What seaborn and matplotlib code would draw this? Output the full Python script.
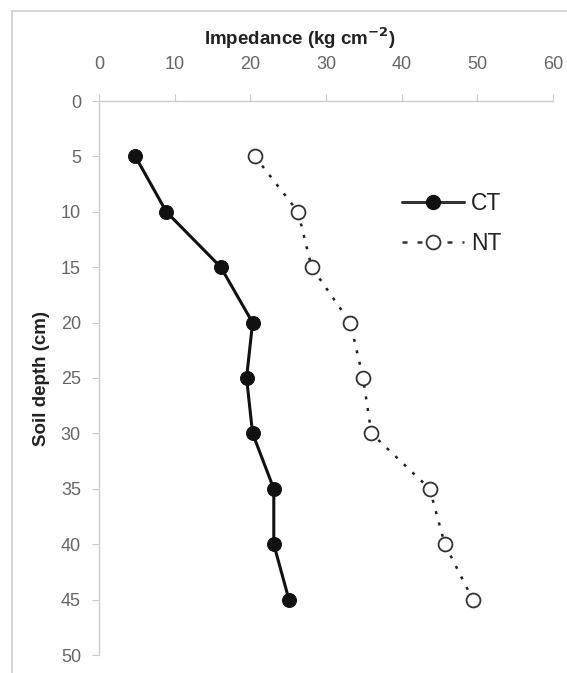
import matplotlib
matplotlib.use("Agg")
import matplotlib.pyplot as plt
import seaborn as sns
import pandas as pd
from matplotlib.lines import Line2D

depth = [5, 10, 15, 20, 25, 30, 35, 40, 45]
ct_impedance = [4.8, 8.9, 16.1, 20.3, 19.5, 20.3, 23.1, 23.1, 25.1]
nt_impedance = [20.6, 26.3, 28.1, 33.2, 34.9, 36.0, 43.7, 45.7, 49.4]
x_ticks = [0, 10, 20, 30, 40, 50, 60]
y_ticks = [0, 5, 10, 15, 20, 25, 30, 35, 40, 45, 50]

sns.set_style("white")
plt.rcParams['font.family'] = ['Liberation Sans', 'DejaVu Sans']

fig = plt.figure(figsize=(5.67, 6.73), dpi=100)
ax = fig.add_axes([99/567, 1 - 655/673, (553 - 99)/567, (655 - 101)/673])

ct = pd.DataFrame({"depth": depth, "imp": ct_impedance})
nt = pd.DataFrame({"depth": depth, "imp": nt_impedance})

sns.lineplot(data=ct, x="imp", y="depth", orient="y", sort=False, ax=ax,
             color="#111111", linewidth=2.2, marker="o", markersize=10,
             markerfacecolor="#111111", markeredgecolor="#111111", label="CT")
sns.lineplot(data=nt, x="imp", y="depth", orient="y", sort=False, ax=ax,
             color="#222222", linewidth=1.8, linestyle=(0, (1.2, 3.5)), marker="o",
             markersize=10, markerfacecolor="white", markeredgecolor="#333333",
             markeredgewidth=1.3, label="NT")

ax.set_xlim(0, 60)
ax.set_ylim(50, 0)
ax.set_xticks(x_ticks)
ax.set_yticks(y_ticks)
ax.xaxis.tick_top()
ax.xaxis.set_label_position("top")
ax.tick_params(axis="x", top=True, bottom=False, direction="out", length=5,
               color="#cccccc", labelsize=13, labelcolor="#666666", pad=15)
ax.tick_params(axis="y", left=True, direction="out", length=5,
               color="#cccccc", labelsize=13, labelcolor="#666666", pad=8)
for s in ["right", "bottom"]:
    ax.spines[s].set_visible(False)
for s in ["top", "left"]:
    ax.spines[s].set_color("#cccccc")
    ax.spines[s].set_linewidth(1.0)

ax.set_xlabel("")
ax.set_ylabel("Soil depth (cm)", fontsize=13.5, fontweight="bold", color="#222222", labelpad=8)
fig.text(300/567, 1 - 38/673, "Impedance (kg cm$^{\\mathbf{-2}}$)", ha="center", va="center",
         fontsize=13.5, fontweight="bold", color="#222222")

handles = [
    Line2D([], [], color="#333333", linewidth=2.2, marker="o", markersize=10,
           markerfacecolor="#111111", markeredgecolor="#111111"),
    Line2D([], [], color="#333333", linewidth=1.8, linestyle=(0, (2, 4)), marker="o",
           markersize=10, markerfacecolor="white", markeredgecolor="#333333", markeredgewidth=1.3),
]
ax.legend(handles, ["CT", "NT"], loc="upper left", bbox_to_anchor=(0.622, 0.873),
          frameon=False, fontsize=16.5, handlelength=2.7, handletextpad=0.3,
          labelspacing=0.75, labelcolor="#222222")

# light outer border (top and left)
fig.add_artist(Line2D([12/567, 12/567], [0, 1 - 11/673], transform=fig.transFigure,
                      color="#d0d0d0", linewidth=1.2))
fig.add_artist(Line2D([12/567, 1], [1 - 11/673, 1 - 11/673], transform=fig.transFigure,
                      color="#d0d0d0", linewidth=1.2))

fig.savefig("out.png", dpi=100)
